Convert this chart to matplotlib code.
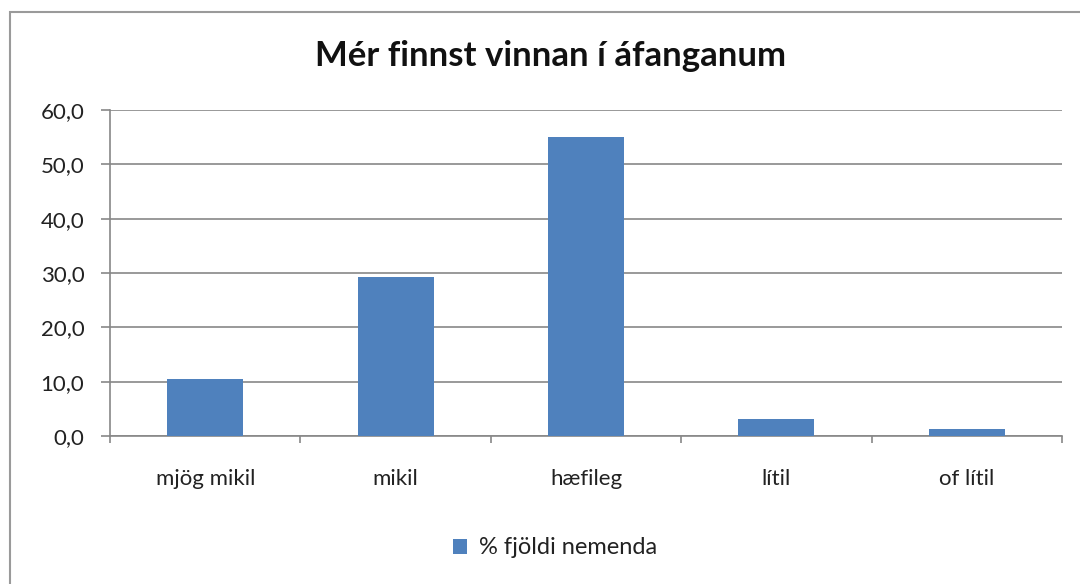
import matplotlib
matplotlib.use("Agg")
import matplotlib.pyplot as plt
from matplotlib.patches import Rectangle

categories = ["mjög mikil", "mikil", "hæfileg", "lítil", "of lítil"]
values = [10.4, 29.2, 55.0, 3.1, 1.3]
series_name = "% fjöldi nemenda"
title = "Mér finnst vinnan í áfanganum"
yticks = [0, 10, 20, 30, 40, 50, 60]

plt.rcParams['font.family'] = ['Lato', 'DejaVu Sans']
bar_color = "#4F81BD"
grid_color = "#878787"
text_color = "#222222"

fig = plt.figure(figsize=(10.8, 5.84), dpi=100)
# chart frame
fig.patches.append(Rectangle((10/1080, -0.1), 1.2, (584-12)/584 + 0.1, transform=fig.transFigure,
                             fill=False, edgecolor="#9a9a9a", linewidth=1.5))

ax = fig.add_axes([110/1080, (584-436)/584, (1062-110)/1080, (436-110)/584])
x = list(range(len(categories)))
ax.bar(x, values, width=0.4, color=bar_color, label=series_name, zorder=3)
ax.set_xlim(-0.5, len(categories) - 0.5)
ax.set_ylim(0, 60)
ax.set_yticks(yticks)
ax.set_yticklabels([f"{v:.1f}".replace(".", ",") for v in yticks], fontsize=16, color=text_color)
ax.yaxis.grid(True, color=grid_color, linewidth=1.2, zorder=0)
ax.set_axisbelow(True)

# category ticks at boundaries
ax.set_xticks([i - 0.5 for i in range(len(categories) + 1)])
ax.set_xticklabels([])
ax.set_xticks(x, minor=True)
ax.set_xticklabels(categories, minor=True, fontsize=16, color=text_color)
ax.tick_params(axis='x', which='major', length=5, width=1.2, color=grid_color, direction='out')
ax.tick_params(axis='x', which='minor', length=0, pad=24)
ax.tick_params(axis='y', length=6.5, width=1.2, color=grid_color, pad=12)

for s in ["top", "right"]:
    ax.spines[s].set_visible(False)
for s in ["left", "bottom"]:
    ax.spines[s].set_color(grid_color)
    ax.spines[s].set_linewidth(1.2)

fig.text(551/1080, 1 - 56/584, title, ha="center", va="center", fontsize=25, fontweight="bold", color="#111111")

leg = fig.legend(loc="center", bbox_to_anchor=(555/1080, 1 - 548/584), frameon=False,
                 fontsize=17, handlelength=0.6, handleheight=0.6, handletextpad=0.5)
for t in leg.get_texts():
    t.set_color(text_color)

fig.savefig("out.png", dpi=100)
